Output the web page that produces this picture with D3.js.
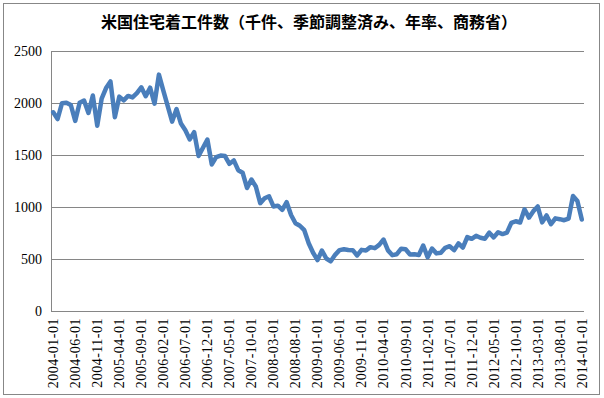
<!DOCTYPE html>
<html>
<head>
<meta charset="utf-8">
<script src="https://cdn.jsdelivr.net/npm/d3@7"></script>
<style>
  body { margin: 0; background: #fff; }
  svg { display: block; }
  .title { font-family: "Noto Sans CJK JP", sans-serif; font-weight: bold; font-size: 16px; }
</style>
</head>
<body>
<div id="chart"></div>
<script>
'use strict';

var title = '米国住宅着工件数（千件、季節調整済み、年率、商務省）';

// monthly, 2004-01 .. 2014-01 (thousand units, SAAR)
var startYear = 2004;
var starts = [
  1911, 1846, 1998, 2003, 1981, 1828, 2002, 2024, 1905, 2072, 1782, 2042,
  2144, 2207, 1864, 2061, 2025, 2068, 2054, 2095, 2151, 2065, 2147, 1994,
  2273, 2119, 1969, 1821, 1942, 1802, 1737, 1650, 1720, 1491, 1570, 1649,
  1409, 1480, 1495, 1490, 1415, 1448, 1354, 1330, 1183, 1264, 1197, 1037,
  1084, 1103, 1005, 1013, 973, 1046, 923, 844, 820, 777, 652, 560,
  490, 582, 505, 478, 540, 585, 594, 586, 585, 534, 588, 581,
  614, 604, 636, 687, 583, 537, 546, 599, 594, 543, 545, 539,
  630, 517, 600, 554, 561, 608, 623, 585, 650, 610, 711, 694,
  723, 704, 695, 753, 708, 757, 740, 754, 847, 863, 851, 978,
  898, 960, 1005, 852, 919, 835, 891, 883, 873, 889, 1105, 1058,
  880
];
var yTicks = [0, 500, 1000, 1500, 2000, 2500];

function pad(n) { return n < 10 ? '0' + n : '' + n; }
var months = starts.map(function(v, i) {
  return (startYear + Math.floor(i / 12)) + '-' + pad(i % 12 + 1) + '-01';
});
// every 5th month is labelled
var xLabels = months.filter(function(m, i) { return i % 5 === 0; });

var W = 604, H = 398;
var margin = {top: 51, right: 20, bottom: 87, left: 51};
var width = W - margin.left - margin.right;
var height = H - margin.top - margin.bottom;
var tickFont = '"Liberation Serif", "DejaVu Serif", serif';

var svg = d3.select('#chart').append('svg')
  .attr('width', W)
  .attr('height', H);

// chart area border
svg.append('rect')
  .attr('x', 3.5).attr('y', 3.5)
  .attr('width', W - 8).attr('height', H - 7)
  .attr('fill', '#fff')
  .attr('stroke', '#878787');

svg.append('text')
  .attr('class', 'title')
  .attr('x', 309)
  .attr('y', 28)
  .attr('text-anchor', 'middle')
  .text(title);

var g = svg.append('g')
  .attr('transform', 'translate(' + margin.left + ',' + margin.top + ')');

var x = d3.scaleBand().domain(months).range([0, width]);
var y = d3.scaleLinear().domain([0, 2500]).range([height, 0]);

// gridlines
g.selectAll('.grid')
  .data(yTicks)
  .enter().append('line')
    .attr('class', 'grid')
    .attr('x1', 0).attr('x2', width)
    .attr('y1', function(d) { return Math.round(y(d)) + 0.5; })
    .attr('y2', function(d) { return Math.round(y(d)) + 0.5; })
    .attr('stroke', '#868686');

// y axis
var yAxis = g.append('g')
  .call(d3.axisLeft(y).tickValues(yTicks).tickFormat(d3.format('d'))
    .tickSize(0).tickPadding(9));
yAxis.select('.domain').remove();
yAxis.selectAll('text')
  .style('font-family', tickFont)
  .style('font-size', '14px')
  .attr('fill', '#000');
g.append('line')
  .attr('x1', 0.5).attr('x2', 0.5)
  .attr('y1', 0).attr('y2', height)
  .attr('stroke', '#868686');

// x axis
var xAxis = g.append('g')
  .attr('transform', 'translate(0,' + height + ')')
  .call(d3.axisBottom(x).tickValues(xLabels).tickSize(0));
xAxis.select('.domain').remove();
xAxis.selectAll('text')
  .attr('transform', 'rotate(-90)')
  .attr('x', -7)
  .attr('y', 0)
  .attr('dy', '0.35em')
  .attr('fill', '#000')
  .style('font-family', tickFont)
  .style('font-size', '14px')
  .style('text-anchor', 'end')
  .style('letter-spacing', '0.5px');

// line
var line = d3.line()
  .x(function(d, i) { return x(months[i]) + x.bandwidth() / 2; })
  .y(function(d) { return y(d); });

g.append('path')
  .datum(starts)
  .attr('fill', 'none')
  .attr('stroke', '#4A7EBB')
  .attr('stroke-width', 4.5)
  .attr('stroke-linejoin', 'round')
  .attr('stroke-linecap', 'round')
  .attr('d', line);
</script>
</body>
</html>
